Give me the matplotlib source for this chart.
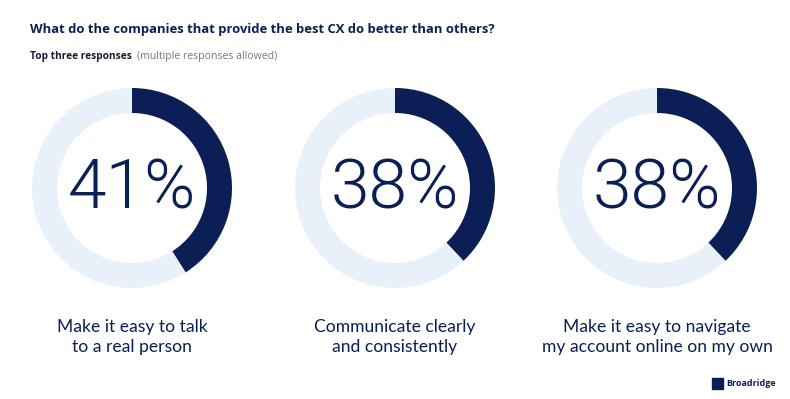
import matplotlib
matplotlib.use("Agg")
import matplotlib.pyplot as plt

values = [41, 38, 38]
labels = ["Make it easy to talk\nto a real person",
          "Communicate clearly\nand consistently",
          "Make it easy to navigate\nmy account online on my own"]
title = "What do the companies that provide the best CX do better than others?"

NAVY = "#0b1f56"
LIGHT = "#e8f0fa"

W, H = 790, 399
fig = plt.figure(figsize=(W / 100, H / 100), dpi=100)
fig.patch.set_facecolor("white")

# title + subtitle
fig.text(30 / W, 1 - 30 / H, title, fontsize=9.4, fontweight="bold",
         color=NAVY, family="Open Sans", va="center")
t = fig.text(30 / W, 1 - 57 / H, "Top three responses", fontsize=7.3,
             fontweight="bold", color="#1a1a2e", family="Open Sans", va="center")
fig.canvas.draw()
bb = t.get_window_extent()
fig.text((bb.x1 + 5) / W, 1 - 57 / H, "(multiple responses allowed)", fontsize=7.6,
         color="#777777", family="Open Sans", va="center")

centers = [132, 395, 657]
cy, r = 188, 100
for cx, v, lab in zip(centers, values, labels):
    ax = fig.add_axes([(cx - r) / W, 1 - (cy + r) / H, 2 * r / W, 2 * r / H])
    ax.pie([v, 100 - v], colors=[NAVY, LIGHT], startangle=90, counterclock=False,
           wedgeprops=dict(width=0.25, linewidth=0))
    ax.set_xlim(-1, 1)
    ax.set_ylim(-1, 1)
    ax.set_aspect("equal")
    ax.axis("off")
    ax.text(0, -0.02, f"{v}%", ha="center", va="center", fontsize=50,
            color=NAVY, family="Roboto", fontweight=300)
    fig.text(cx / W, 1 - 337 / H, lab, ha="center", va="center", fontsize=12.6,
             color=NAVY, family="Lato", fontweight="normal", linespacing=1.35)

# logo
fig.patches.append(plt.Rectangle((712 / W, 1 - 389 / H), 11 / W, 11 / H,
                                 transform=fig.transFigure, color=NAVY))
fig.text(726 / W, 1 - 383 / H, "Broadridge", fontsize=6.5, fontweight="bold",
         color=NAVY, family="Open Sans", va="center")

fig.savefig("out.png", dpi=100)
